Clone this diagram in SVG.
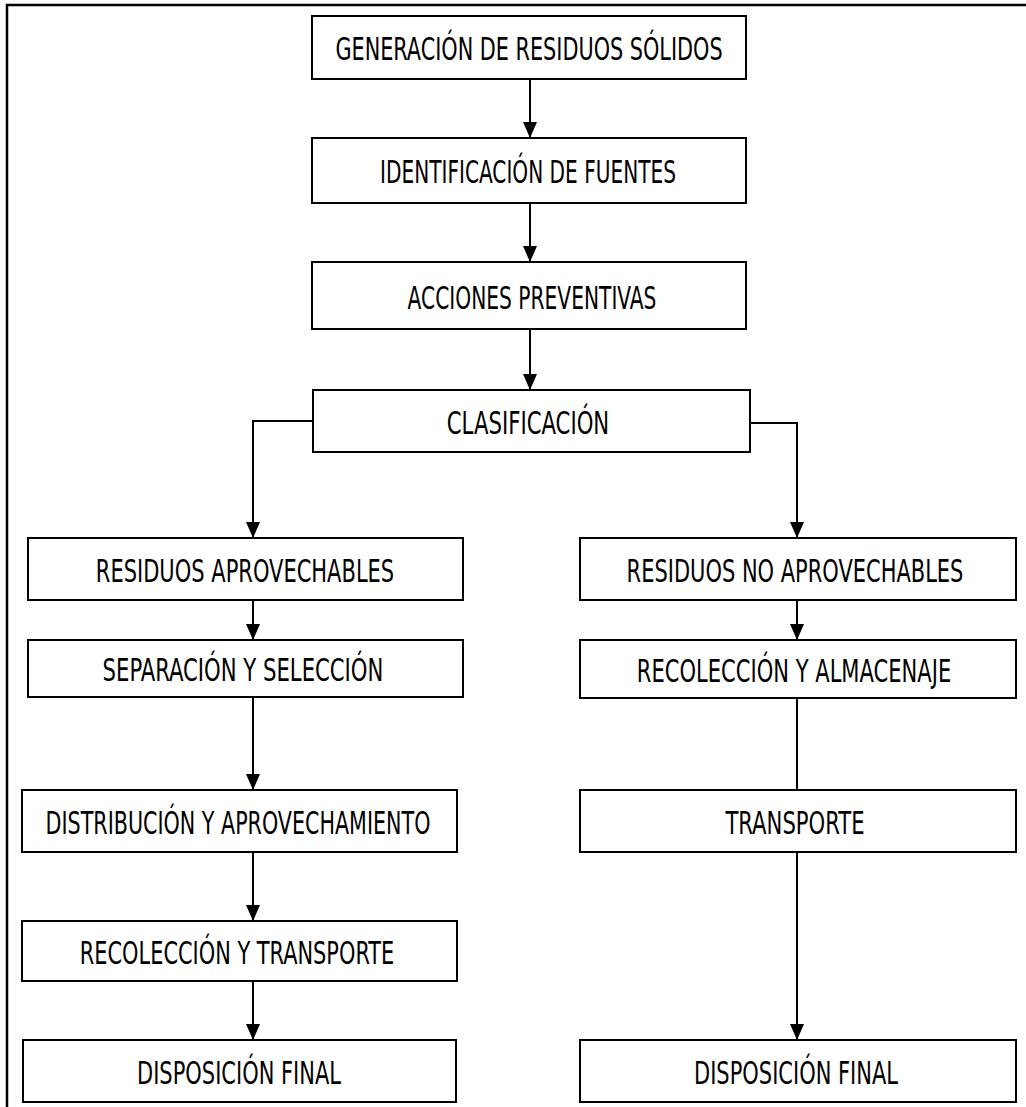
<svg xmlns="http://www.w3.org/2000/svg" width="1026" height="1107" viewBox="0 0 1026 1107">
<style>
.box{fill:#fff;stroke:#000;stroke-width:2}
.lbl{font-family:"Liberation Sans Narrow","DejaVu Sans Condensed","Liberation Sans",sans-serif;font-size:32px;fill:#000;text-anchor:middle}
.con{fill:none;stroke:#000;stroke-width:2}
</style>
<defs>
<marker id="ah" markerWidth="14" markerHeight="16" refX="7" refY="16" orient="0" markerUnits="userSpaceOnUse" viewBox="0 0 14 16">
<path d="M0,0 L14,0 L7,16 Z" fill="#000"/>
</marker>
</defs>
<rect x="0" y="0" width="1026" height="1107" fill="#fff"/>
<g id="frame"><path d="M7,1107 V5 H1026" fill="none" stroke="#000" stroke-width="2.5"/></g>
<g id="connectors">
<line class="con" x1="530" y1="79" x2="530" y2="138" marker-end="url(#ah)"/>
<line class="con" x1="530" y1="203" x2="530" y2="262" marker-end="url(#ah)"/>
<line class="con" x1="530" y1="329" x2="530" y2="390" marker-end="url(#ah)"/>
<path class="con" d="M313,421 H253 V538" marker-end="url(#ah)"/>
<path class="con" d="M750,423 H797 V538" marker-end="url(#ah)"/>
<line class="con" x1="253" y1="600" x2="253" y2="640" marker-end="url(#ah)"/>
<line class="con" x1="253" y1="697" x2="253" y2="790" marker-end="url(#ah)"/>
<line class="con" x1="253" y1="852" x2="253" y2="921" marker-end="url(#ah)"/>
<line class="con" x1="253" y1="981" x2="253" y2="1040" marker-end="url(#ah)"/>
<line class="con" x1="797" y1="600" x2="797" y2="640" marker-end="url(#ah)"/>
<line class="con" x1="797" y1="698" x2="797" y2="790"/>
<line class="con" x1="797" y1="852" x2="797" y2="1040" marker-end="url(#ah)"/>
</g>
<g id="n1"><rect class="box" x="312" y="16" width="434" height="63"/><text class="lbl" transform="translate(529,60) scale(0.8,1)" textLength="484" lengthAdjust="spacingAndGlyphs">GENERACIÓN DE RESIDUOS SÓLIDOS</text></g>
<g id="n2"><rect class="box" x="312" y="138" width="434" height="65"/><text class="lbl" transform="translate(528,183) scale(0.8,1)" textLength="370" lengthAdjust="spacingAndGlyphs">IDENTIFICACIÓN DE FUENTES</text></g>
<g id="n3"><rect class="box" x="312" y="262" width="434" height="67"/><text class="lbl" transform="translate(532,309) scale(0.8,1)" textLength="311" lengthAdjust="spacingAndGlyphs">ACCIONES PREVENTIVAS</text></g>
<g id="n4"><rect class="box" x="313" y="390" width="437" height="62"/><text class="lbl" transform="translate(528,434) scale(0.8,1)" textLength="203" lengthAdjust="spacingAndGlyphs">CLASIFICACIÓN</text></g>
<g id="n5"><rect class="box" x="28" y="538" width="435" height="62"/><text class="lbl" transform="translate(245,582) scale(0.8,1)" textLength="373" lengthAdjust="spacingAndGlyphs">RESIDUOS APROVECHABLES</text></g>
<g id="n6"><rect class="box" x="580" y="538" width="436" height="62"/><text class="lbl" transform="translate(795,582) scale(0.8,1)" textLength="421" lengthAdjust="spacingAndGlyphs">RESIDUOS NO APROVECHABLES</text></g>
<g id="n7"><rect class="box" x="28" y="640" width="435" height="57"/><text class="lbl" transform="translate(243,681) scale(0.8,1)" textLength="351" lengthAdjust="spacingAndGlyphs">SEPARACIÓN Y SELECCIÓN</text></g>
<g id="n8"><rect class="box" x="580" y="640" width="436" height="58"/><text class="lbl" transform="translate(794,682) scale(0.8,1)" textLength="393" lengthAdjust="spacingAndGlyphs">RECOLECCIÓN Y ALMACENAJE</text></g>
<g id="n9"><rect class="box" x="22" y="790" width="435" height="62"/><text class="lbl" transform="translate(238,834) scale(0.8,1)" textLength="481" lengthAdjust="spacingAndGlyphs">DISTRIBUCIÓN Y APROVECHAMIENTO</text></g>
<g id="n10"><rect class="box" x="580" y="790" width="436" height="62"/><text class="lbl" transform="translate(795,834) scale(0.8,1)" textLength="174" lengthAdjust="spacingAndGlyphs">TRANSPORTE</text></g>
<g id="n11"><rect class="box" x="22" y="921" width="435" height="60"/><text class="lbl" transform="translate(237,964) scale(0.8,1)" textLength="393" lengthAdjust="spacingAndGlyphs">RECOLECCIÓN Y TRANSPORTE</text></g>
<g id="n12"><rect class="box" x="23" y="1040" width="433" height="62"/><text class="lbl" transform="translate(239,1084) scale(0.8,1)" textLength="255" lengthAdjust="spacingAndGlyphs">DISPOSICIÓN FINAL</text></g>
<g id="n13"><rect class="box" x="580" y="1040" width="436" height="62"/><text class="lbl" transform="translate(796,1084) scale(0.8,1)" textLength="255" lengthAdjust="spacingAndGlyphs">DISPOSICIÓN FINAL</text></g>
</svg>
